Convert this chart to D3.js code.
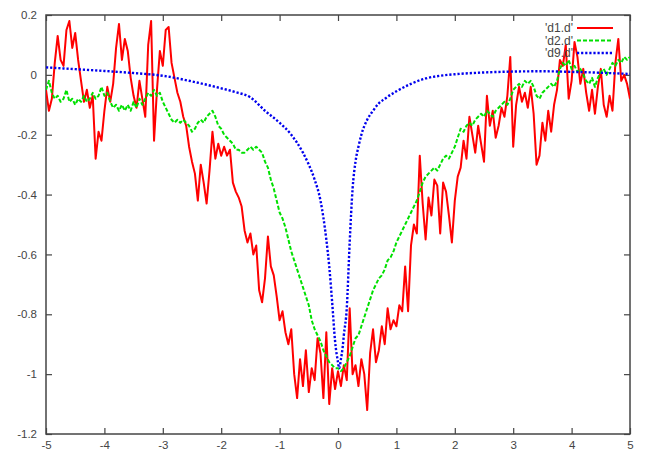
<!DOCTYPE html>
<html>
<head>
<meta charset="utf-8">
<script src="https://cdn.jsdelivr.net/npm/d3@7"></script>
<style>
  body { margin: 0; background: #fff; }
  text { font-family: "Liberation Sans", Arial, sans-serif; }
</style>
</head>
<body>
<svg id="chart" width="648" height="451"></svg>
<script>
// sample grid for d1 / d2: -5 .. 5, every 0.05
const gridStart = -5, gridStep = 0.05;

const d1 = [
  -0.05, -0.12, -0.08, 0.04, 0.13, 0.05, 0.03, 0.15, 0.18, 0.09,
  0.14, 0.05, -0.02, -0.09, -0.05, -0.11, -0.07, -0.28, -0.19, -0.22,
  -0.12, -0.04, -0.09, -0.03, 0.09, 0.17, 0.05, 0.12, 0.08, -0.01,
  -0.07, -0.11, -0.02, -0.08, -0.14, 0.10, 0.18, -0.22, -0.05, 0.08,
  0.03, 0.15, 0.16, 0.04, -0.01, -0.06, -0.09, -0.14, -0.17, -0.24,
  -0.29, -0.33, -0.42, -0.30, -0.36, -0.43, -0.32, -0.19, -0.28, -0.23,
  -0.27, -0.24, -0.27, -0.25, -0.36, -0.39, -0.41, -0.44, -0.52, -0.56,
  -0.53, -0.60, -0.57, -0.72, -0.76, -0.68, -0.54, -0.64, -0.67, -0.74,
  -0.82, -0.79, -0.86, -0.90, -0.85, -1.00, -1.08, -0.95, -1.04, -0.92,
  -1.06, -0.98, -1.02, -0.88, -0.93, -1.08, -0.86, -1.10, -0.98, -1.05,
  -0.99, -1.04, -0.97, -1.02, -0.78, -1.00, -0.97, -1.04, -0.95, -1.00,
  -1.12, -0.93, -0.85, -0.96, -0.92, -0.84, -0.90, -0.78, -0.85, -0.82,
  -0.84, -0.77, -0.79, -0.64, -0.79, -0.57, -0.50, -0.53, -0.27, -0.43,
  -0.55, -0.41, -0.47, -0.35, -0.37, -0.53, -0.36, -0.39, -0.47, -0.56,
  -0.42, -0.34, -0.31, -0.22, -0.28, -0.14, -0.20, -0.26, -0.17, -0.23,
  -0.29, -0.07, -0.17, -0.12, -0.21, -0.17, -0.11, -0.14, -0.07, 0.06,
  -0.24, -0.10, -0.04, -0.09, -0.06, -0.11, -0.04, -0.13, -0.30, -0.27,
  -0.16, -0.22, -0.12, -0.19, -0.10, -0.05, 0.05, 0.03, 0.10, -0.08,
  -0.02, 0.11, 0.06, -0.03, 0.02, -0.06, -0.12, -0.05, -0.13, -0.04,
  0.02, -0.10, -0.14, -0.07, -0.12, 0.04, 0.12, -0.02, 0.00, -0.03,
  -0.08
];

const d2 = [
  -0.05, -0.02, -0.06, -0.08, -0.07, -0.09, -0.08, -0.05, -0.09, -0.08,
  -0.10, -0.08, -0.09, -0.07, -0.09, -0.08, -0.06, -0.08, -0.07, -0.04,
  -0.07, -0.06, -0.09, -0.11, -0.10, -0.12, -0.10, -0.12, -0.10, -0.12,
  -0.09, -0.11, -0.08, -0.10, -0.08, -0.06, -0.07, -0.05, -0.07, -0.06,
  -0.09, -0.11, -0.13, -0.15, -0.16, -0.15, -0.16, -0.15, -0.16, -0.17,
  -0.19, -0.18, -0.16, -0.15, -0.16, -0.14, -0.13, -0.12, -0.14, -0.17,
  -0.18, -0.20, -0.21, -0.22, -0.23, -0.25, -0.25, -0.26, -0.26, -0.25,
  -0.24, -0.25, -0.24, -0.25, -0.26, -0.29, -0.31, -0.35, -0.38, -0.42,
  -0.46, -0.48, -0.51, -0.55, -0.59, -0.62, -0.65, -0.68, -0.71, -0.74,
  -0.77, -0.82, -0.85, -0.87, -0.89, -0.92, -0.94, -0.96, -0.97, -0.98,
  -0.98, -0.99, -0.98, -0.96, -0.94, -0.91, -0.88, -0.87, -0.84, -0.81,
  -0.78, -0.75, -0.72, -0.70, -0.68, -0.67, -0.65, -0.62, -0.61, -0.59,
  -0.56, -0.54, -0.52, -0.50, -0.48, -0.46, -0.44, -0.42, -0.39, -0.36,
  -0.34, -0.33, -0.32, -0.31, -0.32, -0.30, -0.28, -0.27, -0.28, -0.26,
  -0.24, -0.21, -0.18, -0.19, -0.17, -0.16, -0.17, -0.15, -0.14, -0.13,
  -0.14, -0.12, -0.13, -0.14, -0.12, -0.11, -0.10, -0.09, -0.10, -0.08,
  -0.05, -0.04, -0.03, -0.04, -0.02, -0.03, -0.02, -0.04, -0.07, -0.08,
  -0.06, -0.05, -0.04, -0.03, -0.04, -0.02, 0.02, 0.04, 0.03, 0.05,
  0.02, 0.03, 0.01, 0.02, 0.00, -0.02, -0.03, -0.01, -0.04, -0.01,
  0.01, 0.02, 0.00, 0.02, 0.04, 0.03, 0.05, 0.04, 0.06, 0.05,
  0.06
];

// d9 is smooth, so it is read at fewer points
const d9x = [-5, -4.5, -4, -3.5, -3, -2.5, -2, -1.75, -1.5, -1.25, -1, -0.8, -0.6, -0.5,
  -0.4, -0.3, -0.2, -0.15, -0.1, -0.05, 0, 0.02, 0.05, 0.08, 0.1, 0.15, 0.2, 0.25,
  0.3, 0.35, 0.4, 0.5, 0.6, 0.7, 0.8, 1, 1.25, 1.5, 1.75, 2, 2.5, 3, 3.5, 4, 4.5, 5];
const d9y = [0.025, 0.019, 0.013, 0.006, -0.003, -0.022, -0.045, -0.058, -0.075, -0.12, -0.16, -0.2, -0.26, -0.3,
  -0.35, -0.42, -0.55, -0.64, -0.76, -0.89, -0.96, -0.98, -0.95, -0.91, -0.87, -0.78, -0.56, -0.38,
  -0.29, -0.24, -0.2, -0.15, -0.12, -0.095, -0.08, -0.055, -0.03, -0.012, -0.003, 0.002, 0.008, 0.011, 0.012, 0.01, 0.007, 0.003];

const xTicks = [-5, -4, -3, -2, -1, 0, 1, 2, 3, 4, 5];
const xTickLabels = ['-5', '-4', '-3', '-2', '-1', '0', '1', '2', '3', '4', '5'];
const yTicks = [0.2, 0, -0.2, -0.4, -0.6, -0.8, -1, -1.2];
const yTickLabels = ['0.2', '0', '-0.2', '-0.4', '-0.6', '-0.8', '-1', '-1.2'];

const seriesNames = ["'d1.d'", "'d2.d'", "'d9.d'"];

const L = 46, R = 630, T = 15, B = 434;
const svg = d3.select('#chart');
const x = d3.scaleLinear().domain([-5, 5]).range([L, R]);
const y = d3.scaleLinear().domain([-1.2, 0.2]).range([B, T]);

svg.append('defs').append('clipPath').attr('id', 'plot')
  .append('rect').attr('x', L).attr('y', T).attr('width', R - L).attr('height', B - T);

// axes: gnuplot style, ticks pointing inward, mirrored on top/right
const axisColor = '#444';
function styleAxis(g) {
  g.select('.domain').remove();
  g.selectAll('line').attr('stroke', axisColor).attr('stroke-width', 1.2);
  g.selectAll('text').attr('fill', '#444').style('font-size', '11.5px');
}
svg.append('g').attr('transform', `translate(0,${B})`)
  .call(d3.axisBottom(x).tickValues(xTicks).tickSize(-6).tickPadding(7)
    .tickFormat((d, i) => xTickLabels[i]))
  .call(styleAxis);
svg.append('g').attr('transform', `translate(${L},0)`)
  .call(d3.axisLeft(y).tickValues(yTicks).tickSize(-6).tickPadding(9)
    .tickFormat((d, i) => yTickLabels[i]))
  .call(styleAxis);
svg.append('g').attr('transform', `translate(0,${T})`)
  .call(d3.axisTop(x).tickValues(xTicks).tickSize(-6).tickFormat(''))
  .call(styleAxis);
svg.append('g').attr('transform', `translate(${R},0)`)
  .call(d3.axisRight(y).tickValues(yTicks).tickSize(-6).tickFormat(''))
  .call(styleAxis);

svg.append('rect').attr('x', L).attr('y', T).attr('width', R - L).attr('height', B - T)
  .attr('fill', 'none').attr('stroke', axisColor).attr('stroke-width', 1.5);

const styles = [
  { color: '#ff0000', width: 2, dash: null },
  { color: '#00e000', width: 2, dash: '4,2' },
  { color: '#0000ee', width: 2.4, dash: '2.2,1.9' }
];

const gridPts = arr => arr.map((v, i) => [gridStart + i * gridStep, v]);
const data = [gridPts(d1), gridPts(d2), d9x.map((v, i) => [v, d9y[i]])];

const line = d3.line().x(d => x(d[0])).y(d => y(d[1]));
const smooth = d3.line().x(d => x(d[0])).y(d => y(d[1])).curve(d3.curveMonotoneX);

const plot = svg.append('g').attr('clip-path', 'url(#plot)');
data.forEach((pts, k) => {
  plot.append('path')
    .datum(pts)
    .attr('d', k === 2 ? smooth : line)
    .attr('fill', 'none')
    .attr('stroke', styles[k].color)
    .attr('stroke-width', styles[k].width)
    .attr('stroke-linejoin', 'round')
    .attr('stroke-dasharray', styles[k].dash);
});

// legend, top right inside the frame
const leg = svg.append('g');
seriesNames.forEach((name, k) => {
  const ly = 28 + k * 12.5;
  leg.append('text').attr('x', 573).attr('y', ly).attr('dy', '0.35em')
    .attr('text-anchor', 'end').attr('fill', '#444').style('font-size', '12px')
    .text(name);
  leg.append('line').attr('x1', 577).attr('x2', 613).attr('y1', ly).attr('y2', ly)
    .attr('stroke', styles[k].color).attr('stroke-width', styles[k].width)
    .attr('stroke-dasharray', styles[k].dash);
});
</script>
</body>
</html>
